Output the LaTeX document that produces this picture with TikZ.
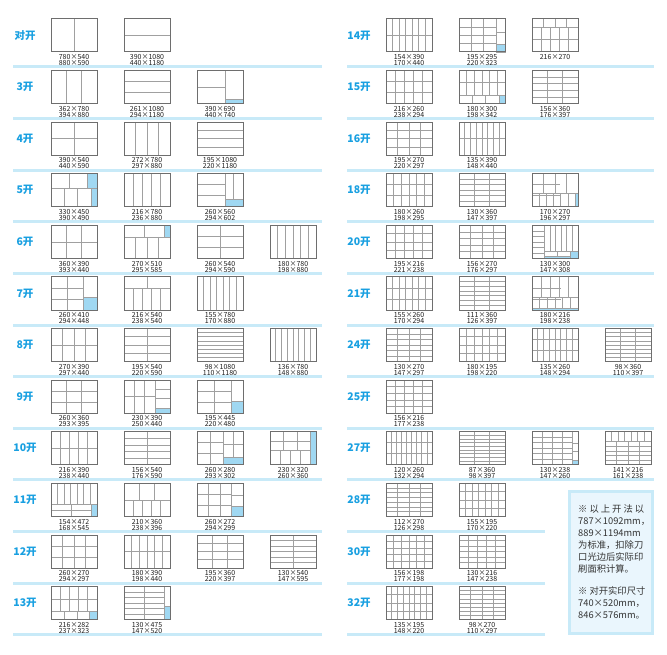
\documentclass[tikz,border=0pt]{standalone}
\usepackage{fontspec}
\newfontfamily\cjk{Noto Sans CJK SC}
\definecolor{labblue}{RGB}{25,160,225}
\definecolor{sepblue}{RGB}{200,234,248}
\definecolor{cutblue}{RGB}{160,216,242}
\definecolor{noteblue}{RGB}{234,246,253}
\definecolor{boxgray}{RGB}{110,110,110}
\definecolor{lingray}{RGB}{160,160,160}
% n parts between x #2..#3, lines from y #4 to #5
\newcommand\VV[5]{\pgfmathtruncatemacro\nnV{#1-1}\ifnum\nnV>0
 \foreach \k in {1,...,\nnV}{\draw[cutline] ({#2+(#3-#2)*\k/#1},#4) -- ({#2+(#3-#2)*\k/#1},#5);}\fi}
% n parts between y #2..#3, lines from x #4 to #5
\newcommand\HH[5]{\pgfmathtruncatemacro\nnH{#1-1}\ifnum\nnH>0
 \foreach \k in {1,...,\nnH}{\draw[cutline] (#4,{#2+(#3-#2)*\k/#1}) -- (#5,{#2+(#3-#2)*\k/#1});}\fi}
\newcommand\GG[2]{\VV{#1}{0}{1}{0}{1}\HH{#2}{0}{1}{0}{1}}
\newcommand\BL[4]{\filldraw[bluep] (#1,#2) rectangle (#3,#4);}
\newcommand\LN[4]{\draw[cutline] (#1,#2) -- (#3,#4);}
\newcommand\cutbox[5]{%
 \begin{scope}[shift={(#2,#3)},x=46pt,y=-33pt]
 #4
 \draw[boxline] (0,0) rectangle (1,1);
 \end{scope}
 \node[numlab] (#1) at ({#2+23},{#3+41.3}) {#5};}
\begin{document}
\begin{tikzpicture}[x=1pt,y=-1pt,
  boxline/.style={draw=boxgray,line width=1pt},
  cutline/.style={draw=lingray,line width=0.75pt},
  bluep/.style={fill=cutblue,draw=lingray,line width=0.75pt},
  numlab/.style={font=\cjk\fontsize{7}{6}\selectfont,align=center,inner sep=0pt,text=black!88},
  rowlab/.style={font=\cjk\bfseries\fontsize{10.5}{12}\selectfont,text=labblue,inner sep=0pt},
  sepline/.style={draw=sepblue,line width=3pt},
  notetext/.style={font=\cjk\fontsize{9.3}{11}\selectfont,text=black!80,inner sep=0pt,anchor=base west}]
\fill[white] (0,0) rectangle (667,655);
\useasboundingbox (0,0) rectangle (667,655);
% separators
\foreach \yy in {67,118.6,170.2,221.8,273.4,325,376.6,428.2,479.8,531.4,583,634.6}{\draw[sepline] (13,\yy) -- (322,\yy);}
\foreach \yy in {67,118.6,170.2,221.8,273.4,325,376.6,428.2,479.8}{\draw[sepline] (347,\yy) -- (654,\yy);}
\foreach \yy in {531.4,583,634.6}{\draw[sepline] (347,\yy) -- (545,\yy);}
% row labels
\node[rowlab] (rl0) at (25,35.5) {对开};
\node[rowlab] (rl1) at (25,87.1) {3开};
\node[rowlab] (rl2) at (25,138.7) {4开};
\node[rowlab] (rl3) at (25,190.3) {5开};
\node[rowlab] (rl4) at (25,241.9) {6开};
\node[rowlab] (rl5) at (25,293.5) {7开};
\node[rowlab] (rl6) at (25,345.1) {8开};
\node[rowlab] (rl7) at (25,396.7) {9开};
\node[rowlab] (rl8) at (25,448.3) {10开};
\node[rowlab] (rl9) at (25,499.9) {11开};
\node[rowlab] (rl10) at (25,551.5) {12开};
\node[rowlab] (rl11) at (25,603.1) {13开};
\node[rowlab] (rr0) at (359,35.5) {14开};
\node[rowlab] (rr1) at (359,87.1) {15开};
\node[rowlab] (rr2) at (359,138.7) {16开};
\node[rowlab] (rr3) at (359,190.3) {18开};
\node[rowlab] (rr4) at (359,241.9) {20开};
\node[rowlab] (rr5) at (359,293.5) {21开};
\node[rowlab] (rr6) at (359,345.1) {24开};
\node[rowlab] (rr7) at (359,396.7) {25开};
\node[rowlab] (rr8) at (359,448.3) {27开};
\node[rowlab] (rr9) at (359,499.9) {28开};
\node[rowlab] (rr10) at (359,551.5) {30开};
\node[rowlab] (rr11) at (359,603.1) {32开};
% ---------------- left column ----------------
% 对开
\cutbox{a0}{51}{19}{\VV{2}{0}{1}{0}{1}}{780×540\\880×590}
\cutbox{b0}{124}{19}{\HH{2}{0}{1}{0}{1}}{390×1080\\440×1180}
% 3开
\cutbox{a1}{51}{70.6}{\VV{3}{0}{1}{0}{1}}{362×780\\394×880}
\cutbox{b1}{124}{70.6}{\HH{3}{0}{1}{0}{1}}{261×1080\\294×1180}
\cutbox{c1}{197}{70.6}{\LN{0.62}{0}{0.62}{1}\LN{0}{0.5}{0.62}{0.5}\BL{0.62}{0.87}{1}{1}}{390×690\\440×740}
% 4开
\cutbox{a2}{51}{122.2}{\GG{2}{2}}{390×540\\440×590}
\cutbox{b2}{124}{122.2}{\VV{4}{0}{1}{0}{1}}{272×780\\297×880}
\cutbox{c2}{197}{122.2}{\HH{4}{0}{1}{0}{1}}{195×1080\\220×1180}
% 5开
\cutbox{a3}{51}{173.8}{\BL{0.8}{0}{1}{0.45}\BL{0.87}{0.45}{1}{1}\LN{0}{0.45}{0.8}{0.45}\LN{0.4}{0}{0.4}{0.45}\LN{0.29}{0.45}{0.29}{1}\LN{0.58}{0.45}{0.58}{1}}{330×450\\390×490}
\cutbox{b3}{124}{173.8}{\VV{5}{0}{1}{0}{1}}{216×780\\236×880}
\cutbox{c3}{197}{173.8}{\LN{0.62}{0}{0.62}{1}\HH{3}{0}{1}{0}{0.62}\LN{0.8}{0}{0.8}{0.79}\BL{0.62}{0.79}{1}{1}}{260×560\\294×602}
% 6开
\cutbox{a4}{51}{225.4}{\GG{3}{2}}{360×390\\393×440}
\cutbox{b4}{124}{225.4}{\LN{0}{0.35}{1}{0.35}\LN{0.45}{0}{0.45}{0.35}\BL{0.88}{0}{1}{0.35}\VV{4}{0}{1}{0.35}{1}}{270×510\\295×585}
\cutbox{c4}{197}{225.4}{\GG{2}{3}}{260×540\\294×590}
\cutbox{d4}{270}{225.4}{\VV{6}{0}{1}{0}{1}}{180×780\\198×880}
% 7开
\cutbox{a5}{51}{277}{\LN{0.7}{0}{0.7}{1}\HH{3}{0}{1}{0}{0.7}\LN{0.35}{0}{0.35}{1}\BL{0.7}{0.63}{1}{1}}{260×410\\294×448}
\cutbox{b5}{124}{277}{\LN{0}{0.34}{1}{0.34}\LN{0.51}{0}{0.51}{0.34}\VV{5}{0}{1}{0.34}{1}}{216×540\\238×540}
\cutbox{c5}{197}{277}{\VV{7}{0}{1}{0}{1}}{155×780\\170×880}
% 8开
\cutbox{a6}{51}{328.6}{\GG{4}{2}}{270×390\\297×440}
\cutbox{b6}{124}{328.6}{\GG{2}{4}}{195×540\\220×590}
\cutbox{c6}{197}{328.6}{\HH{8}{0}{1}{0}{1}}{98×1080\\110×1180}
\cutbox{d6}{270}{328.6}{\VV{8}{0}{1}{0}{1}}{136×780\\148×880}
% 9开
\cutbox{a7}{51}{380.2}{\GG{3}{3}}{260×360\\293×395}
\cutbox{b7}{124}{380.2}{\LN{0.68}{0}{0.68}{1}\VV{3}{0}{0.68}{0}{1}\LN{0}{0.5}{0.68}{0.5}\LN{0.68}{0.29}{1}{0.29}\LN{0.68}{0.55}{1}{0.55}\BL{0.68}{0.86}{1}{1}}{230×390\\250×440}
\cutbox{c7}{197}{380.2}{\LN{0.75}{0}{0.75}{1}\LN{0.37}{0}{0.37}{1}\HH{3}{0}{1}{0}{0.75}\BL{0.75}{0.63}{1}{1}}{195×445\\220×480}
% 10开
\cutbox{a8}{51}{431.8}{\GG{5}{2}}{216×390\\238×440}
\cutbox{b8}{124}{431.8}{\GG{2}{5}}{156×540\\176×590}
\cutbox{c8}{197}{431.8}{\LN{0.57}{0}{0.57}{1}\VV{2}{0}{0.57}{0}{1}\HH{3}{0}{1}{0}{0.57}\LN{0.78}{0}{0.78}{0.77}\LN{0.57}{0.38}{1}{0.38}\BL{0.57}{0.77}{1}{1}}{260×280\\293×302}
\cutbox{d8}{270}{431.8}{\BL{0.88}{0}{1}{1}\LN{0}{0.3}{0.88}{0.3}\LN{0}{0.57}{0.88}{0.57}\VV{3}{0}{0.88}{0}{0.57}\VV{4}{0}{0.88}{0.57}{1}}{230×320\\260×360}
% 11开
\cutbox{a9}{51}{483.4}{\VV{7}{0}{1}{0}{0.65}\LN{0}{0.65}{1}{0.65}\LN{0}{0.82}{0.87}{0.82}\LN{0.45}{0.65}{0.45}{1}\BL{0.87}{0.65}{1}{1}}{154×472\\168×545}
\cutbox{b9}{124}{483.4}{\LN{0}{0.52}{1}{0.52}\VV{3}{0}{1}{0}{0.52}\VV{5}{0}{1}{0.52}{1}}{210×360\\238×396}
\cutbox{c9}{197}{483.4}{\LN{0.75}{0}{0.75}{1}\VV{3}{0}{0.75}{0}{1}\HH{3}{0}{1}{0}{0.75}\LN{0.75}{0.37}{1}{0.37}\BL{0.75}{0.71}{1}{1}}{260×272\\294×299}
% 12开
\cutbox{a10}{51}{535}{\GG{4}{3}}{260×270\\294×297}
\cutbox{b10}{124}{535}{\GG{6}{2}}{180×390\\198×440}
\cutbox{c10}{197}{535}{\GG{3}{4}}{195×360\\220×397}
\cutbox{d10}{270}{535}{\GG{2}{6}}{130×540\\147×595}
% 13开
\cutbox{a11}{51}{586.6}{\VV{5}{0}{1}{0}{0.76}\LN{0}{0.38}{1}{0.38}\LN{0}{0.76}{1}{0.76}\LN{0.29}{0.76}{0.29}{1}\LN{0.57}{0.76}{0.57}{1}\BL{0.84}{0.76}{1}{1}}{216×282\\237×323}
\cutbox{b11}{124}{586.6}{\LN{0.87}{0}{0.87}{1}\VV{2}{0}{0.87}{0}{1}\HH{6}{0}{1}{0}{0.87}\BL{0.87}{0.6}{1}{1}}{130×475\\147×520}
% ---------------- right column ----------------
% 14开
\cutbox{e0}{386}{19}{\GG{7}{2}}{154×390\\170×440}
\cutbox{f0}{459}{19}{\LN{0.81}{0}{0.81}{1}\VV{3}{0}{0.81}{0}{1}\HH{4}{0}{1}{0}{0.81}\LN{0.81}{0.4}{1}{0.4}\BL{0.81}{0.78}{1}{1}}{195×295\\220×323}
\cutbox{g0}{532}{19}{\LN{0}{0.26}{1}{0.26}\VV{4}{0}{1}{0}{0.26}\VV{5}{0}{1}{0.26}{1}\LN{0}{0.62}{1}{0.62}}{216×270\\\mbox{}}
% 15开
\cutbox{e1}{386}{70.6}{\GG{5}{3}}{216×260\\238×294}
\cutbox{f1}{459}{70.6}{\VV{6}{0}{1}{0}{0.74}\LN{0}{0.37}{1}{0.37}\LN{0}{0.74}{1}{0.74}\LN{0.29}{0.74}{0.29}{1}\LN{0.58}{0.74}{0.58}{1}\BL{0.87}{0.74}{1}{1}}{180×300\\198×342}
\cutbox{g1}{532}{70.6}{\GG{3}{5}}{156×360\\176×397}
% 16开
\cutbox{e2}{386}{122.2}{\GG{4}{4}}{195×270\\220×297}
\cutbox{f2}{459}{122.2}{\GG{8}{2}}{135×390\\148×440}
% 18开
\cutbox{e3}{386}{173.8}{\GG{6}{3}}{180×260\\198×295}
\cutbox{f3}{459}{173.8}{\GG{3}{6}}{130×360\\147×397}
\cutbox{g3}{532}{173.8}{\VV{4}{0}{1}{0}{0.6}\HH{3}{0}{1}{0}{0.6}\LN{0}{0.6}{1}{0.6}\VV{6}{0}{0.94}{0.6}{1}\BL{0.94}{0.6}{1}{1}}{170×270\\196×297}
% 20开
\cutbox{e4}{386}{225.4}{\GG{5}{4}}{195×216\\221×238}
\cutbox{f4}{459}{225.4}{\GG{4}{5}}{156×270\\176×297}
\cutbox{g4}{532}{225.4}{\LN{0.27}{0}{0.27}{1}\HH{6}{0}{1}{0}{0.27}\VV{6}{0.27}{1}{0}{0.8}\LN{0.27}{0.8}{1}{0.8}\LN{0.555}{0.8}{0.555}{0.93}\BL{0.27}{0.93}{0.84}{1}\BL{0.84}{0.8}{1}{1}}{130×300\\147×308}
% 21开
\cutbox{e5}{386}{277}{\GG{7}{3}}{155×260\\170×294}
\cutbox{f5}{459}{277}{\GG{3}{7}}{111×360\\126×397}
\cutbox{g5}{532}{277}{\VV{5}{0}{1}{0}{0.63}\HH{3}{0}{1}{0}{0.63}\LN{0}{0.63}{1}{0.63}\VV{6}{0}{1}{0.63}{0.94}\BL{0}{0.94}{1}{1}}{180×216\\198×238}
% 24开
\cutbox{e6}{386}{328.6}{\GG{4}{6}}{130×270\\147×297}
\cutbox{f6}{459}{328.6}{\GG{6}{4}}{180×195\\198×220}
\cutbox{g6}{532}{328.6}{\GG{8}{3}}{135×260\\148×294}
\cutbox{h6}{605}{328.6}{\GG{3}{8}}{98×360\\110×397}
% 25开
\cutbox{e7}{386}{380.2}{\GG{5}{5}}{156×216\\177×238}
% 27开
\cutbox{e8}{386}{431.8}{\GG{9}{3}}{120×260\\132×294}
\cutbox{f8}{459}{431.8}{\GG{3}{9}}{87×360\\98×397}
\cutbox{g8}{532}{431.8}{\LN{0.88}{0}{0.88}{1}\VV{4}{0}{0.88}{0}{1}\HH{6}{0}{1}{0}{0.88}\LN{0.88}{0.34}{1}{0.34}\LN{0.88}{0.6}{1}{0.6}\BL{0.88}{0.87}{1}{1}}{130×238\\147×260}
\cutbox{h8}{605}{431.8}{\LN{0}{0.3}{1}{0.3}\VV{7}{0}{1}{0}{0.3}\VV{4}{0}{1}{0.3}{1}\HH{5}{0.3}{1}{0}{1}}{141×216\\161×238}
% 28开
\cutbox{e9}{386}{483.4}{\GG{4}{7}}{112×270\\126×298}
\cutbox{f9}{459}{483.4}{\GG{7}{4}}{155×195\\170×220}
% 30开
\cutbox{e10}{386}{535}{\GG{6}{5}}{156×198\\177×198}
\cutbox{f10}{459}{535}{\GG{5}{6}}{130×216\\147×238}
% 32开
\cutbox{e11}{386}{586.6}{\GG{8}{4}}{135×195\\148×220}
\cutbox{f11}{459}{586.6}{\GG{4}{8}}{98×270\\110×297}
% note box
\draw[draw=sepblue,line width=3pt,fill=noteblue] (569.5,491.5) rectangle (652.5,633.5);
\node[notetext] (n1) at (578,512) {\hbox to 66pt{※\hfill 以\hfill 上\hfill 开\hfill 法\hfill 以}};
\node[notetext] (n2) at (578,524) {787×1092mm，};
\node[notetext] (n3) at (578,536) {889×1194mm};
\node[notetext] (n4) at (578,548) {为标准，扣除刀};
\node[notetext] (n5) at (578,560) {口光边后实际印};
\node[notetext] (n6) at (578,572) {刷面积计算。};
\node[notetext] (n7) at (578,594) {※ 对开实印尺寸};
\node[notetext] (n8) at (578,606) {740×520mm，};
\node[notetext] (n9) at (578,618) {846×576mm。};
\end{tikzpicture}
\end{document}
